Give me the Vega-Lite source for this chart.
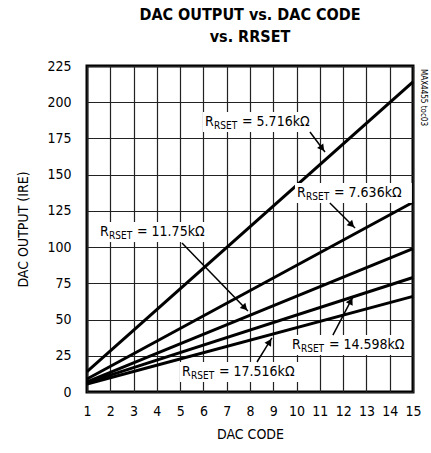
{
  "$schema": "https://vega.github.io/schema/vega-lite/v6.json",
  "width": 326,
  "height": 326,
  "autosize": "none",
  "padding": {"left": 87, "top": 66, "right": 18, "bottom": 61},
  "background": "white",
  "config": {
    "font": "DejaVu Sans Condensed",
    "view": {"stroke": "black", "strokeWidth": 3},
    "axis": {"labelFont": "DejaVu Sans Condensed", "titleFont": "DejaVu Sans Condensed", "labelColor": "black", "titleColor": "black", "labelFontSize": 14, "titleFontSize": 14, "titleFontWeight": "normal", "gridColor": "#222", "gridWidth": 1.2, "gridOpacity": 1, "domain": false, "ticks": false, "labelOverlap": false, "labelFlush": false, "labelBound": false}
  },
  "title": {
    "text": ["DAC OUTPUT vs. DAC CODE", "vs. RRSET"],
    "font": "DejaVu Sans Condensed",
    "fontSize": 16,
    "fontWeight": "bold",
    "lineHeight": 22,
    "anchor": "middle",
    "offset": 14,
    "color": "black"
  },
  "datasets": {
    "curves": [
      {"rset": "5.716", "code": 1, "out": 14},
      {"rset": "5.716", "code": 15, "out": 214},
      {"rset": "7.636", "code": 1, "out": 9},
      {"rset": "7.636", "code": 15, "out": 131},
      {"rset": "11.75", "code": 1, "out": 7},
      {"rset": "11.75", "code": 15, "out": 99},
      {"rset": "14.598", "code": 1, "out": 6.5},
      {"rset": "14.598", "code": 15, "out": 79},
      {"rset": "17.516", "code": 1, "out": 5.5},
      {"rset": "17.516", "code": 15, "out": 66}
    ],
    "labels": [
      {"rset": "5.716", "lx": 6.07, "ly": 186.3, "bx0": 5.98, "bx1": 11.0, "by0": 179.4, "by1": 193.2, "rest": "= 5.716kΩ"},
      {"rset": "7.636", "lx": 10.02, "ly": 137.3, "bx0": 9.93, "bx1": 14.95, "by0": 130.4, "by1": 144.2, "rest": "= 7.636kΩ"},
      {"rset": "11.75", "lx": 1.56, "ly": 110.4, "bx0": 1.47, "bx1": 6.45, "by0": 103.5, "by1": 117.3, "rest": "= 11.75kΩ"},
      {"rset": "14.598", "lx": 9.8, "ly": 32.4, "bx0": 9.72, "bx1": 14.87, "by0": 25.5, "by1": 39.3, "rest": "= 14.598kΩ"},
      {"rset": "17.516", "lx": 5.08, "ly": 13.8, "bx0": 4.99, "bx1": 10.15, "by0": 6.9, "by1": 20.7, "rest": "= 17.516kΩ"}
    ],
    "arrows": [
      {"rset": "5.716", "tx": 10.575, "ty": 179.4, "hx": 11.22, "hy": 165.6, "cx": 11.1, "cy": 168.1, "angle": 143},
      {"rset": "7.636", "tx": 11.43, "ty": 130.4, "hx": 12.51, "hy": 113.2, "cx": 12.37, "cy": 115.4, "angle": 135},
      {"rset": "11.75", "tx": 5.08, "ty": 102.8, "hx": 7.91, "hy": 55.9, "cx": 7.78, "cy": 58.1, "angle": 136},
      {"rset": "14.598", "tx": 11.56, "ty": 39.3, "hx": 12.42, "hy": 65.6, "cx": 12.33, "cy": 62.8, "angle": 28},
      {"rset": "17.516", "tx": 8.3, "ty": 20.7, "hx": 8.94, "hy": 37.3, "cx": 8.84, "cy": 34.6, "angle": 32}
    ],
    "note": [{"code": 15, "out": 225, "txt": "MAX4455 toc03"}]
  },
  "layer": [
    {
      "data": {"name": "curves"},
      "mark": {"type": "line", "color": "black", "strokeWidth": 3},
      "encoding": {
        "x": {"field": "code", "type": "quantitative", "scale": {"domain": [1, 15], "nice": false, "zero": false}, "axis": {"values": [1,2,3,4,5,6,7,8,9,10,11,12,13,14,15], "labelPadding": 12, "title": "DAC CODE", "titlePadding": 9}},
        "y": {"field": "out", "type": "quantitative", "scale": {"domain": [0, 225], "nice": false}, "axis": {"values": [0,25,50,75,100,125,150,175,200,225], "labelPadding": 16, "title": "DAC OUTPUT (IRE)", "titlePadding": 16}},
        "detail": {"field": "rset"}
      }
    },
    {
      "data": {"name": "labels"},
      "mark": {"type": "rect", "color": "white"},
      "encoding": {
        "x": {"field": "bx0", "type": "quantitative", "axis": {"values": [1,2,3,4,5,6,7,8,9,10,11,12,13,14,15], "labelPadding": 12, "title": "DAC CODE", "titlePadding": 9}},
        "x2": {"field": "bx1"},
        "y": {"field": "by0", "type": "quantitative", "axis": {"values": [0,25,50,75,100,125,150,175,200,225], "labelPadding": 16, "title": "DAC OUTPUT (IRE)", "titlePadding": 16}},
        "y2": {"field": "by1"}
      }
    },
    {
      "data": {"name": "arrows"},
      "mark": {"type": "rule", "color": "black", "strokeWidth": 1.5},
      "encoding": {
        "x": {"field": "tx", "type": "quantitative", "axis": {"values": [1,2,3,4,5,6,7,8,9,10,11,12,13,14,15], "labelPadding": 12, "title": "DAC CODE", "titlePadding": 9}},
        "y": {"field": "ty", "type": "quantitative", "axis": {"values": [0,25,50,75,100,125,150,175,200,225], "labelPadding": 16, "title": "DAC OUTPUT (IRE)", "titlePadding": 16}},
        "x2": {"field": "hx"},
        "y2": {"field": "hy"}
      }
    },
    {
      "data": {"name": "arrows"},
      "mark": {"type": "point", "shape": "triangle-up", "filled": true, "color": "black", "size": 60, "opacity": 1},
      "encoding": {
        "x": {"field": "cx", "type": "quantitative", "axis": {"values": [1,2,3,4,5,6,7,8,9,10,11,12,13,14,15], "labelPadding": 12, "title": "DAC CODE", "titlePadding": 9}},
        "y": {"field": "cy", "type": "quantitative", "axis": {"values": [0,25,50,75,100,125,150,175,200,225], "labelPadding": 16, "title": "DAC OUTPUT (IRE)", "titlePadding": 16}},
        "angle": {"field": "angle", "type": "quantitative", "scale": null}
      }
    },
    {
      "data": {"name": "labels"},
      "mark": {"type": "text", "text": "R", "align": "left", "baseline": "middle", "fontSize": 14, "color": "black"},
      "encoding": {
        "x": {"field": "lx", "type": "quantitative", "axis": {"values": [1,2,3,4,5,6,7,8,9,10,11,12,13,14,15], "labelPadding": 12, "title": "DAC CODE", "titlePadding": 9}},
        "y": {"field": "ly", "type": "quantitative", "axis": {"values": [0,25,50,75,100,125,150,175,200,225], "labelPadding": 16, "title": "DAC OUTPUT (IRE)", "titlePadding": 16}}
      }
    },
    {
      "data": {"name": "labels"},
      "mark": {"type": "text", "text": "RSET", "align": "left", "baseline": "middle", "fontSize": 10, "dx": 9, "dy": 4, "color": "black"},
      "encoding": {
        "x": {"field": "lx", "type": "quantitative", "axis": {"values": [1,2,3,4,5,6,7,8,9,10,11,12,13,14,15], "labelPadding": 12, "title": "DAC CODE", "titlePadding": 9}},
        "y": {"field": "ly", "type": "quantitative", "axis": {"values": [0,25,50,75,100,125,150,175,200,225], "labelPadding": 16, "title": "DAC OUTPUT (IRE)", "titlePadding": 16}}
      }
    },
    {
      "data": {"name": "labels"},
      "mark": {"type": "text", "align": "left", "baseline": "middle", "fontSize": 14, "dx": 37, "color": "black"},
      "encoding": {
        "x": {"field": "lx", "type": "quantitative", "axis": {"values": [1,2,3,4,5,6,7,8,9,10,11,12,13,14,15], "labelPadding": 12, "title": "DAC CODE", "titlePadding": 9}},
        "y": {"field": "ly", "type": "quantitative", "axis": {"values": [0,25,50,75,100,125,150,175,200,225], "labelPadding": 16, "title": "DAC OUTPUT (IRE)", "titlePadding": 16}},
        "text": {"field": "rest"}
      }
    },
    {
      "data": {"name": "note"},
      "mark": {"type": "text", "align": "left", "baseline": "middle", "angle": 90, "fontSize": 8, "dx": 3, "dy": -10, "color": "black"},
      "encoding": {
        "x": {"field": "code", "type": "quantitative", "axis": {"values": [1,2,3,4,5,6,7,8,9,10,11,12,13,14,15], "labelPadding": 12, "title": "DAC CODE", "titlePadding": 9}},
        "y": {"field": "out", "type": "quantitative", "axis": {"values": [0,25,50,75,100,125,150,175,200,225], "labelPadding": 16, "title": "DAC OUTPUT (IRE)", "titlePadding": 16}},
        "text": {"field": "txt"}
      }
    }
  ]
}
